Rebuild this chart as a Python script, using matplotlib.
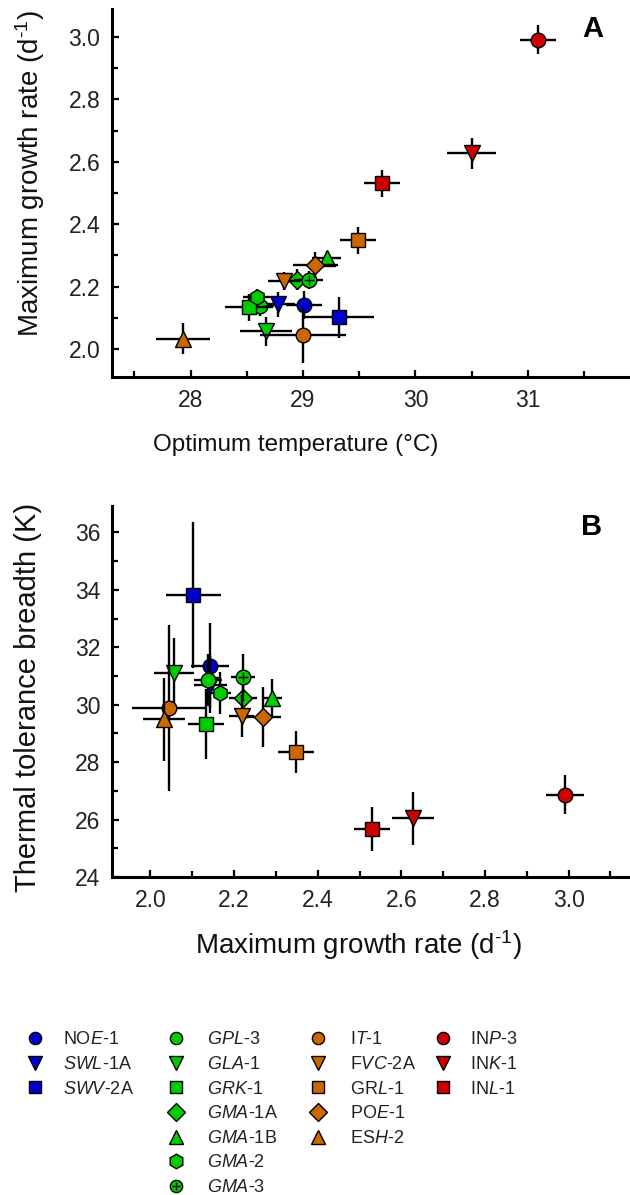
import matplotlib
matplotlib.use('Agg')
import matplotlib.pyplot as plt
from matplotlib.lines import Line2D
from matplotlib.legend_handler import HandlerTuple
from matplotlib.ticker import MultipleLocator

plt.rcParams.update({
    'font.family': ['Liberation Sans', 'DejaVu Sans'],
    'mathtext.fontset': 'custom',
    'mathtext.rm': 'Liberation Sans',
    'mathtext.it': 'Liberation Sans:italic',
    'mathtext.bf': 'Liberation Sans:bold',
})

# ---------------- data ----------------
strains = ['NOE-1', 'SWL-1A', 'SWV-2A', 'GPL-3', 'GLA-1', 'GRK-1', 'GMA-1A', 'GMA-1B',
           'GMA-2', 'GMA-3', 'IT-1', 'FVC-2A', 'GRL-1', 'POE-1', 'ESH-2', 'INP-3',
           'INK-1', 'INL-1']
legend_labels = ['NO$\\mathit{E}$-1', '$\\mathit{SWL}$-1A', '$\\mathit{SWV}$-2A',
                 '$\\mathit{GPL}$-3', '$\\mathit{GLA}$-1', '$\\mathit{GRK}$-1',
                 '$\\mathit{GMA}$-1A', '$\\mathit{GMA}$-1B', '$\\mathit{GMA}$-2',
                 '$\\mathit{GMA}$-3', 'I$\\mathit{T}$-1', 'F$\\mathit{VC}$-2A',
                 'GR$\\mathit{L}$-1', 'PO$\\mathit{E}$-1', 'ES$\\mathit{H}$-2',
                 'IN$\\mathit{P}$-3', 'IN$\\mathit{K}$-1', 'IN$\\mathit{L}$-1']
group = [0, 0, 0, 1, 1, 1, 1, 1, 1, 1, 2, 2, 2, 2, 2, 3, 3, 3]
shape = ['o', 'v', 's', 'o', 'v', 's', 'D', '^', 'h', 'o', 'o', 'v', 's', 'D', '^', 'o', 'v', 's']
plus_mark = [False] * 9 + [True] + [False] * 8

topt = [29.01, 28.78, 29.32, 28.62, 28.67, 28.52, 28.95, 29.21, 28.59, 29.05,
        29.00, 28.83, 29.49, 29.11, 27.93, 31.09, 30.50, 29.70]
topt_err = [0.16, 0.15, 0.31, 0.12, 0.23, 0.21, 0.10, 0.13, 0.12, 0.13,
            0.38, 0.14, 0.16, 0.20, 0.24, 0.16, 0.22, 0.16]
mu_max = [2.142, 2.143, 2.102, 2.138, 2.056, 2.133, 2.222, 2.290, 2.167, 2.221,
          2.045, 2.218, 2.348, 2.270, 2.033, 2.992, 2.627, 2.531]
mu_err = [0.045, 0.040, 0.066, 0.034, 0.047, 0.043, 0.033, 0.024, 0.026, 0.029,
          0.090, 0.030, 0.042, 0.042, 0.050, 0.046, 0.050, 0.043]
ttb = [31.36, 30.70, 33.83, 30.87, 31.09, 29.33, 30.22, 30.23, 30.40, 30.95,
       29.88, 29.60, 28.36, 29.56, 29.49, 26.86, 26.05, 25.67]
ttb_err = [1.47, 1.00, 2.55, 0.90, 1.23, 1.22, 0.50, 0.66, 0.73, 0.81,
           2.90, 0.74, 0.73, 1.05, 1.45, 0.68, 0.92, 0.78]

group_colors = ['#0000CC', '#00CC00', '#CC6600', '#CC0000']
msize = {'o': 10.5, 's': 9.5, 'v': 12, '^': 12, 'D': 8.8, 'h': 11}
leg_msize = {'o': 8.8, 's': 8.0, 'v': 10, '^': 10, 'D': 9.5, 'h': 10.5}

# ---------------- layout ----------------
W, H = 630, 1195
fig = plt.figure(figsize=(W / 100, H / 100), dpi=100)


def rect(l, t, r, b):
    return [l / W, 1 - b / H, (r - l) / W, (b - t) / H]


axA = fig.add_axes(rect(112, 9, 630, 377))
axB = fig.add_axes(rect(112, 506, 630, 877))


def draw(ax, x, xe, y, ye):
    for i in range(len(strains)):
        z = 2 + i * 0.3
        c = group_colors[group[i]]
        ax.errorbar(x[i], y[i], xerr=xe[i], yerr=ye[i], fmt=shape[i],
                    ms=msize[shape[i]], mfc=c, mec='k', mew=1.0,
                    ecolor='k', elinewidth=1.7, capsize=0, zorder=z)
        if plus_mark[i]:
            ax.plot(x[i], y[i], ls='none', marker='+', ms=6.5, mec='k', mew=1.0,
                    zorder=z + 0.2)


draw(axA, topt, topt_err, mu_max, mu_err)
draw(axB, mu_max, mu_err, ttb, ttb_err)

for ax in (axA, axB):
    for s in ('top', 'right'):
        ax.spines[s].set_visible(False)
    for s in ('left', 'bottom'):
        ax.spines[s].set_linewidth(2.2)
    ax.tick_params(which='major', direction='in', length=5, width=1.6,
                   labelsize=16.5, pad=8.5, colors='k', labelcolor='#222222')
    ax.tick_params(which='minor', direction='in', length=4, width=1.6)

axA.set_xlim(27.3, 31.91)
axA.set_ylim(1.91, 3.09)
axA.xaxis.set_major_locator(MultipleLocator(1))
axA.xaxis.set_minor_locator(MultipleLocator(0.5))
axA.yaxis.set_major_locator(MultipleLocator(0.2))
axA.yaxis.set_minor_locator(MultipleLocator(0.1))

axB.set_xlim(1.908, 3.147)
axB.set_ylim(24, 36.92)
axB.xaxis.set_major_locator(MultipleLocator(0.2))
axB.xaxis.set_minor_locator(MultipleLocator(0.1))
axB.yaxis.set_major_locator(MultipleLocator(2))
axB.yaxis.set_minor_locator(MultipleLocator(1))

lab_kw = dict(color='#111111')
mu_label = 'Maximum growth rate (d$^{\\text{-1}}$)'
axA.set_xlabel('Optimum temperature (°C)', va='center', fontsize=17.5, **lab_kw)
axA.xaxis.set_label_coords((296 - 112) / 518, -0.185)
axA.set_ylabel(mu_label, va='center', fontsize=20, **lab_kw)
axA.yaxis.set_label_coords(-0.158, 0.554)

axB.set_xlabel(mu_label, va='center', fontsize=20, **lab_kw)
axB.xaxis.set_label_coords(0.475, -0.183)
axB.set_ylabel('Thermal tolerance breadth (K)', va='center', fontsize=21, **lab_kw)
axB.yaxis.set_label_coords(-0.162, 0.485)

fig.text(593 / W, 1 - 29 / H, 'A', fontsize=21, fontweight='bold', ha='center', va='center')
fig.text(592 / W, 1 - 527 / H, 'B', fontsize=21, fontweight='bold', ha='center', va='center')

# ---------------- legend (one column per colour group) ----------------
leg_fs = 13
col_left = [26, 167, 309, 434]
col_pad = [1.05, 1.22, 1.27, 1.0]
leg_top = 1031.5
for g in range(4):
    handles, labels = [], []
    for i in range(len(strains)):
        if group[i] != g:
            continue
        c = group_colors[g]
        h = Line2D([], [], ls='none', marker=shape[i], ms=leg_msize[shape[i]],
                   mfc=c, mec='k', mew=1.0)
        if plus_mark[i]:
            h = (h, Line2D([], [], ls='none', marker='+', ms=5.5, mec='k', mew=1.0))
        handles.append(h)
        labels.append(legend_labels[i])
    fig.legend(handles, labels, loc='upper left',
               bbox_to_anchor=(col_left[g] / W, 1 - leg_top / H),
               bbox_transform=fig.transFigure, frameon=False, fontsize=leg_fs,
               handlelength=1.0, handletextpad=col_pad[g], borderpad=0, borderaxespad=0,
               labelspacing=0.42, labelcolor='#222222',
               handler_map={tuple: HandlerTuple(ndivide=1)})

fig.savefig('out.png', dpi=100)
